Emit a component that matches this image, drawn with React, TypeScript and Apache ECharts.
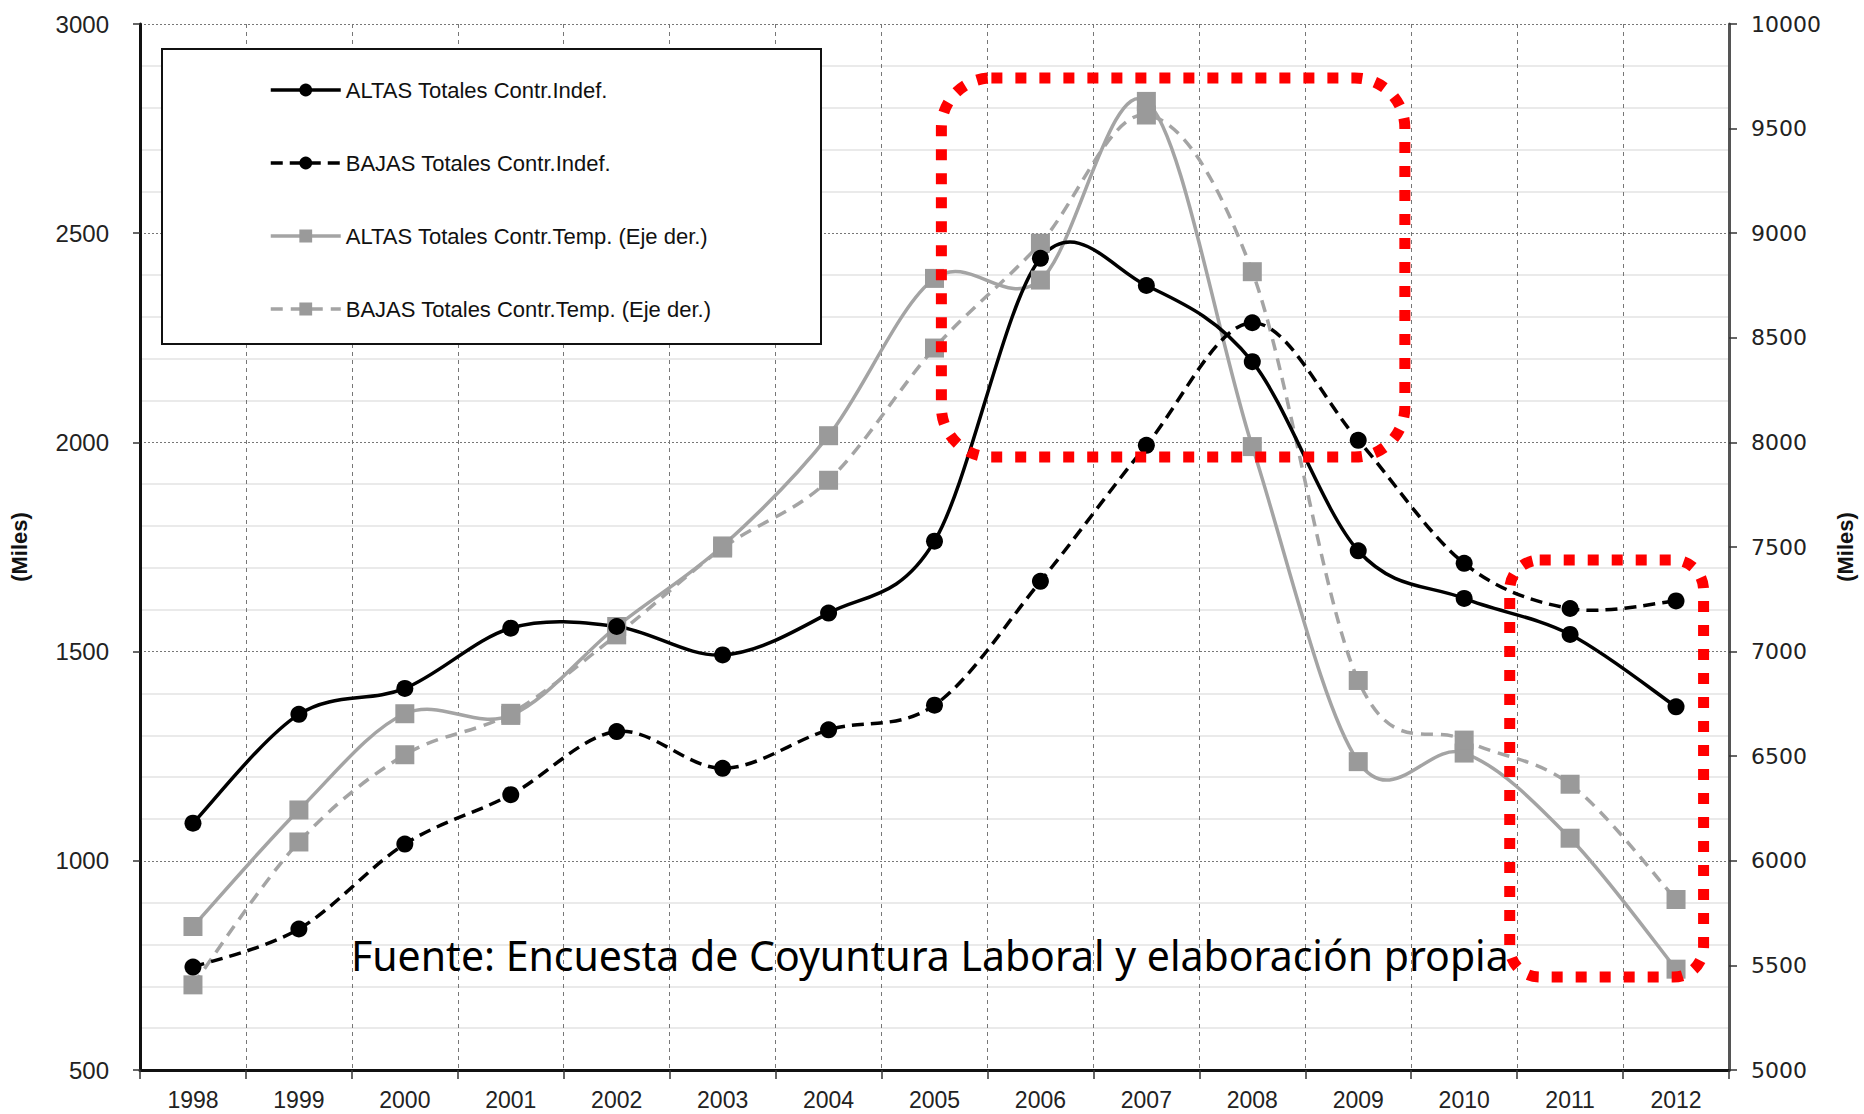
import React, { useEffect, useRef } from "react";
import * as echarts from "echarts";

const years = ["1998", "1999", "2000", "2001", "2002", "2003", "2004", "2005", "2006", "2007", "2008", "2009", "2010", "2011", "2012"];
const altasIndef = [1090, 1350, 1412, 1556, 1560, 1492, 1592, 1764, 2440, 2375, 2193, 1741, 1627, 1541, 1368];
const bajasIndef = [746, 837, 1040, 1158, 1309, 1221, 1313, 1372, 1668, 1993, 2286, 2005, 1711, 1603, 1621];
const altasTemp = [5686, 6243, 6703, 6695, 7120, 7505, 8032, 8784, 8776, 9630, 7980, 6474, 6515, 6108, 5482];
const bajasTemp = [5407, 6090, 6507, 6705, 7080, 7495, 7819, 8451, 8952, 9565, 8816, 6862, 6577, 6366, 5815];

const seriesNames = [
  "ALTAS Totales Contr.Indef.",
  "BAJAS Totales Contr.Indef.",
  "ALTAS Totales Contr.Temp. (Eje der.)",
  "BAJAS Totales Contr.Temp. (Eje der.)",
];
const sourceText = "Fuente: Encuesta de Coyuntura Laboral y elaboración propia";

// highlight boxes in (category index, left-axis value) units
const highlightBoxes = [
  { x0: 7.065, x1: 11.44, yTop: 2871, yBottom: 1965, r: 50 },
  { x0: 12.43, x1: 14.26, yTop: 1719, yBottom: 722, r: 30 },
];

const W = 1864;
const H = 1114;
const narrowFont = '"Liberation Sans", Arial, sans-serif';

// Excel-like smoothed path (Catmull-Rom bezier) through pixel points
function smoothPath(pts: number[][]): string {
  const n = pts.length;
  let d = `M${pts[0][0]},${pts[0][1]}`;
  for (let i = 0; i < n - 1; i++) {
    const p0 = pts[Math.max(i - 1, 0)];
    const p1 = pts[i];
    const p2 = pts[i + 1];
    const p3 = pts[Math.min(i + 2, n - 1)];
    const c1x = p1[0] + (p2[0] - p0[0]) / 6;
    const c1y = p1[1] + (p2[1] - p0[1]) / 6;
    const c2x = p2[0] - (p3[0] - p1[0]) / 6;
    const c2y = p2[1] - (p3[1] - p1[1]) / 6;
    d += ` C${c1x},${c1y} ${c2x},${c2y} ${p2[0]},${p2[1]}`;
  }
  return d;
}

type LineDef = {
  name: string;
  values: number[];
  axis: number;
  color: string;
  symbolColor: string;
  symbol: string;
  symbolSize: number;
  dash: number[] | null;
  markerZ: number;
};

export default function App() {
  const ref = useRef<HTMLDivElement>(null);
  useEffect(() => {
    document.body.style.margin = "0";
    const chart = echarts.init(ref.current!, null, { renderer: "svg" });
    const plain = (v: number) => String(v);
    const lineW = 3.5;

    const defs: LineDef[] = [
      { name: seriesNames[0], values: altasIndef, axis: 0, color: "#000", symbolColor: "#000", symbol: "circle", symbolSize: 17, dash: null, markerZ: 4 },
      { name: seriesNames[1], values: bajasIndef, axis: 0, color: "#000", symbolColor: "#000", symbol: "circle", symbolSize: 17, dash: [12, 7], markerZ: 4 },
      { name: seriesNames[2], values: altasTemp, axis: 1, color: "#a4a4a4", symbolColor: "#9a9a9a", symbol: "rect", symbolSize: 19, dash: null, markerZ: 3 },
      { name: seriesNames[3], values: bajasTemp, axis: 1, color: "#a4a4a4", symbolColor: "#9a9a9a", symbol: "rect", symbolSize: 19, dash: [12, 8], markerZ: 3 },
    ];

    const curveSeries = defs.map((def, k) => ({
      type: "custom",
      name: "curve" + k,
      coordinateSystem: "cartesian2d",
      yAxisIndex: def.axis,
      silent: true,
      z: def.axis === 0 ? 2 : 1,
      data: [[0, def.values[0]]],
      renderItem: (_params: any, api: any) => {
        const pts = def.values.map((v, i) => api.coord([i, v]));
        return {
          type: "path",
          shape: { pathData: smoothPath(pts) },
          style: {
            fill: "none",
            stroke: def.color,
            lineWidth: lineW,
            lineDash: def.dash || undefined,
          },
        };
      },
    }));

    const markerSeries = defs.map((def) => ({
      name: def.name,
      type: "line",
      yAxisIndex: def.axis,
      data: def.values,
      symbol: def.symbol,
      symbolSize: def.symbolSize,
      itemStyle: { color: def.symbolColor },
      lineStyle: { opacity: 0 },
      z: def.markerZ,
    }));

    chart.setOption({
      animation: false,
      backgroundColor: "#ffffff",
      grid: { left: 131, right: 125, top: 24, bottom: 44, containLabel: false },
      legend: {
        data: defs.map((def) => ({
          name: def.name,
          lineStyle: { color: def.color, width: lineW, type: def.dash || "solid", opacity: 1 },
        })),
        orient: "vertical",
        left: 264,
        top: 74,
        itemWidth: 70,
        itemHeight: 16,
        itemGap: 51,
        z: 10,
        textStyle: { fontFamily: narrowFont, fontSize: 22, color: "#111" },
      },
      xAxis: {
        type: "category",
        data: years,
        boundaryGap: true,
        axisLine: { lineStyle: { color: "#111", width: 3 } },
        axisTick: { show: true, interval: 0, length: 9, lineStyle: { color: "#333", width: 1.5 } },
        axisLabel: { fontFamily: narrowFont, fontSize: 23, color: "#222", margin: 18, interval: 0 },
        splitLine: { show: true, interval: 0, lineStyle: { color: "#777", width: 1, type: [4, 4] } },
      },
      yAxis: [
        {
          type: "value",
          min: 500,
          max: 3000,
          interval: 500,
          name: "(Miles)",
          nameLocation: "middle",
          nameRotate: 90,
          nameGap: 110,
          nameTextStyle: { fontFamily: narrowFont, fontSize: 22, fontWeight: "bold", color: "#111" },
          axisLine: { show: true, lineStyle: { color: "#111", width: 3 } },
          axisTick: { show: true, length: 7, lineStyle: { color: "#333", width: 1.5 } },
          axisLabel: { fontFamily: narrowFont, fontSize: 24, color: "#222", margin: 31, formatter: plain },
          splitLine: { show: true, lineStyle: { color: "#777", width: 1.2, type: [2, 2] } },
          minorTick: { show: false, splitNumber: 5 },
          minorSplitLine: { show: true, lineStyle: { color: "#e3e3e3", width: 1.5 } },
        },
        {
          type: "value",
          position: "right",
          min: 5000,
          max: 10000,
          interval: 500,
          name: "(Miles)",
          nameLocation: "middle",
          nameRotate: 90,
          nameGap: 105,
          nameTextStyle: { fontFamily: narrowFont, fontSize: 22, fontWeight: "bold", color: "#111" },
          axisLine: { show: true, lineStyle: { color: "#555", width: 3 } },
          axisTick: { show: true, length: 8, lineStyle: { color: "#333", width: 1.5 } },
          axisLabel: { fontFamily: '"DejaVu Sans", sans-serif', fontSize: 22, color: "#222", margin: 22, formatter: plain },
          splitLine: { show: false },
        },
      ],
      series: [...curveSeries, ...markerSeries],
    });

    const p0 = chart.convertToPixel({ xAxisIndex: 0, yAxisIndex: 0 }, [0, 500]) as number[];
    const p1 = chart.convertToPixel({ xAxisIndex: 0, yAxisIndex: 0 }, [1, 3000]) as number[];
    const catW = p1[0] - p0[0];
    const xAt = (i: number) => p0[0] + i * catW;
    const yAt = (v: number) => (chart.convertToPixel({ yAxisIndex: 0 }, v) as number);

    const boxes = highlightBoxes.map((b) => ({
      type: "rect",
      z: 20,
      shape: {
        x: xAt(b.x0),
        y: yAt(b.yTop),
        width: xAt(b.x1) - xAt(b.x0),
        height: yAt(b.yBottom) - yAt(b.yTop),
        r: b.r,
      },
      style: { fill: "none", stroke: "#ff0000", lineWidth: 11, lineDash: [11, 13] },
    }));

    chart.setOption({
      graphic: [
        {
          type: "rect",
          z: 3,
          shape: { x: 162, y: 49, width: 659, height: 295 },
          style: { fill: "#ffffff", stroke: "#111", lineWidth: 2 },
        },
        {
          type: "text",
          z: 15,
          left: 351,
          top: 934,
          style: { text: sourceText, font: '41px "Noto Sans", sans-serif', fill: "#000" },
        },
        ...boxes,
      ],
    });
    return () => chart.dispose();
  }, []);
  return <div ref={ref} style={{ width: W, height: H, position: "absolute", left: 0, top: 0 }} />;
}
